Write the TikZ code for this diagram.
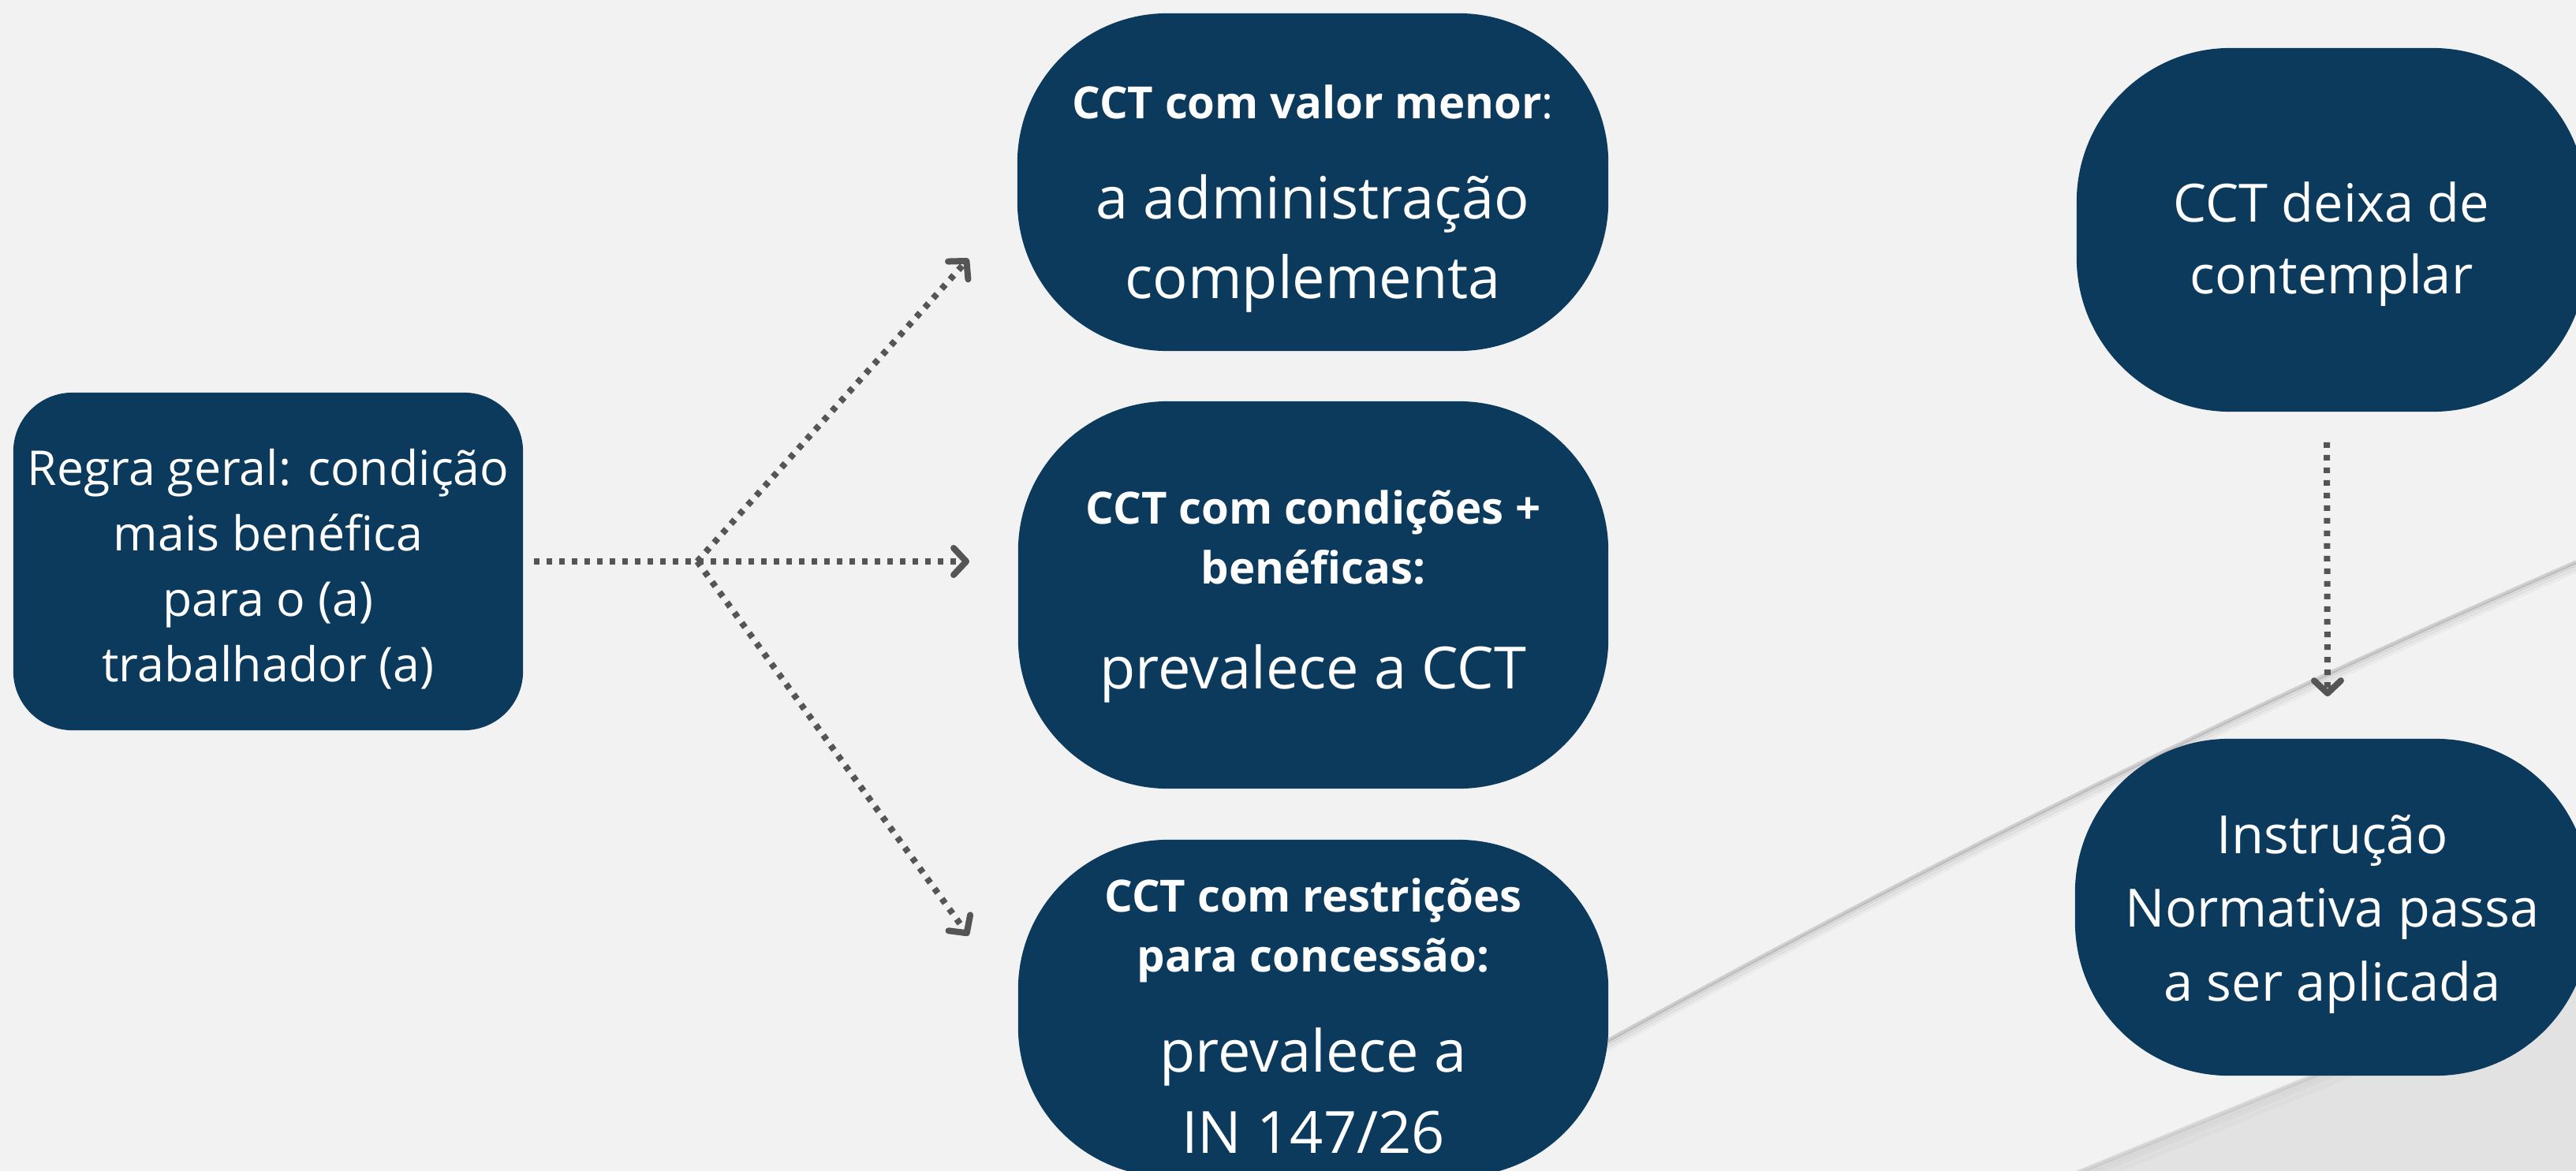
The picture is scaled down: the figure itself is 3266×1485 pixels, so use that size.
\documentclass[tikz,border=0pt]{standalone}
\usepackage{fontspec}
\setmainfont{Open Sans}
\usetikzlibrary{arrows.meta,positioning}

\definecolor{navy}{RGB}{11,58,93}
\definecolor{paper}{RGB}{242,242,242}
\definecolor{fold}{RGB}{226,226,226}
\definecolor{dots}{RGB}{85,85,85}

\tikzset{
  card/.style={fill=navy, text=white, align=center, inner sep=0pt, rounded corners=1.9cm,
    font=\fontsize{21}{28.7}\selectfont},
  flow/.style={dots, line width=0.08cm, dash pattern=on 0.07cm off 0.09cm,
    -{Straight Barb[length=0.16cm,width=0.34cm,round]}}
}
\newcommand{\lift}[1]{\rule{0pt}{#1}}
\newcommand{\casehead}{\fontsize{16}{21.5}\selectfont\bfseries}

\begin{document}
\begin{tikzpicture}[x=0.01cm, y=-0.01cm]
    % Page and background folds
    \useasboundingbox (0,0) rectangle (3266,1485);
    \clip (0,0) rectangle (3266,1485);
    \fill[paper] (0,0) rectangle (3266,1485);
    \foreach \dy/\op in {1/0.14, 4/0.08, 8/0.05, 12/0.03}
        \draw[black, opacity=\op, line width=0.05cm] (1950,1368+\dy) .. controls (2389,1121+\dy) and (2827,903+\dy) .. (3266,712+\dy);
    \fill[fold] (2634,1485) -- (3266,1226) -- (3266,1485) -- cycle;
    \foreach \dy/\op in {2/0.06, 6/0.04, 12/0.03, 20/0.02}
        \draw[black, opacity=\op, line width=0.06cm] (2634,1485+\dy) -- (3266,1226+\dy);

    % Rule box on the left
    \node[card, rounded corners=0.75cm, minimum width=6.46cm, minimum height=4.28cm,
        font=\fontsize{17.3}{23.6}\selectfont] (rule) at (340,712)
        {\lift{18.8pt}Regra geral: condição\\ mais benéfica\\ para o (a)\\ trabalhador (a)};

    % Three cases of the CCT
    \node[card, minimum width=7.49cm, minimum height=4.28cm] (less) at (1664.5,231)
        {\casehead\lift{24pt}CCT com valor menor\mdseries:\\[7.5pt]
         a administração\\ complementa};
    \node[card, minimum width=7.48cm, minimum height=4.91cm] (more) at (1665,754.5)
        {\casehead\lift{13.5pt}CCT com condições +\\[-7.2pt] \casehead benéficas:\\[9.3pt]
         prevalece a CCT};
    \node[card, minimum width=7.48cm, minimum height=4.27cm] (restr) at (1665,1278.5)
        {\casehead\lift{18pt}CCT com restrições\\[-7.2pt] \casehead para concessão:\\[7.5pt]
         prevalece a\\[0.6pt] IN 147/26};

    % Fallback on the right
    \node[card, rounded corners=1.95cm, minimum width=6.46cm, minimum height=4.61cm,
        font=\fontsize{19}{25.9}\selectfont] (gap) at (2956,291.5)
        {\lift{24.5pt}CCT deixa de\\ contemplar};
    \node[card, rounded corners=1.95cm, minimum width=6.52cm, minimum height=4.27cm,
        font=\fontsize{19}{26.7}\selectfont] (norm) at (2957,1150.5)
        {\lift{19pt}Instrução\\ Normativa passa\\ a ser aplicada};

    % Dotted arrows
    \coordinate (fork) at ([xshift=2.2cm]rule.east);
    \draw[flow] ([xshift=0.13cm]rule.east) -- ([xshift=-0.61cm]rule.east -| more.west);
    \draw[flow] (fork) -- ([shift={(-61,97)}]less.west);
    \draw[flow] (fork) -- ([shift={(-62,-92)}]restr.west);
    \draw[flow] ([xshift=-0.06cm,yshift=-0.38cm]gap.south) -- ([xshift=-0.06cm,yshift=0.53cm]norm.north);
\end{tikzpicture}
\end{document}
